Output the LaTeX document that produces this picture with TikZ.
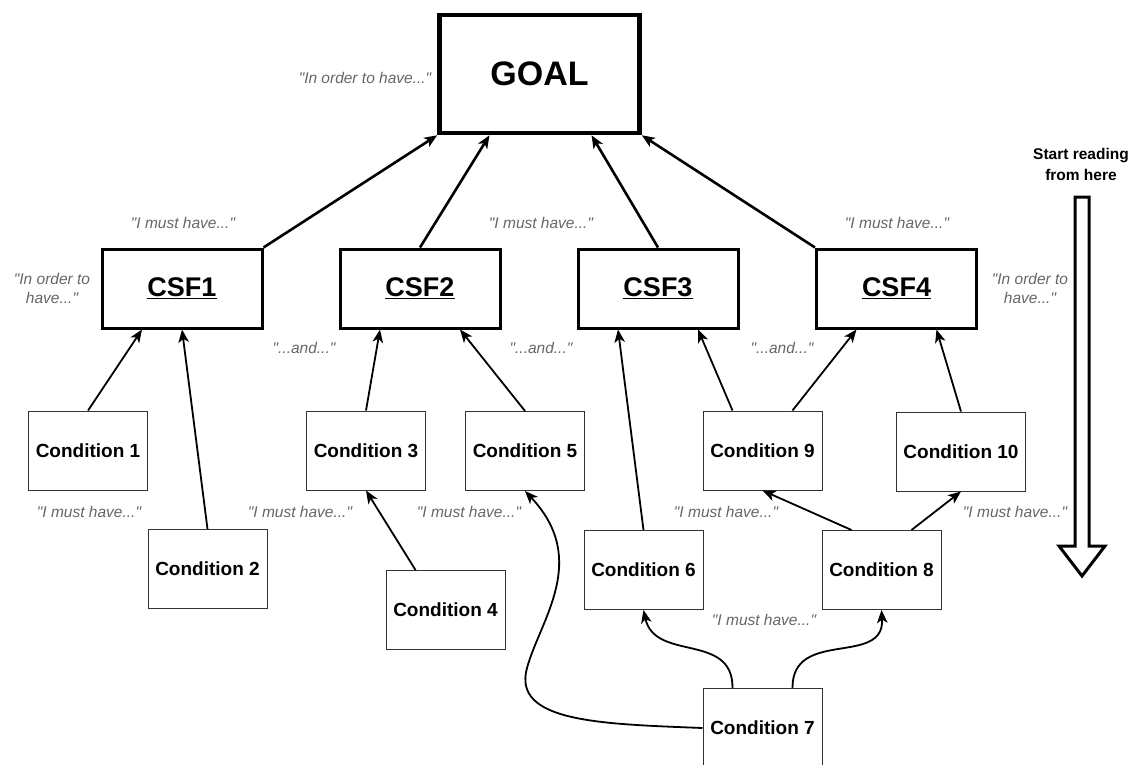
\documentclass[tikz,border=0pt]{standalone}
\usepackage{fontspec}
\setmainfont{Liberation Sans}
\usetikzlibrary{arrows.meta}
\definecolor{labelgray}{HTML}{666666}
\definecolor{condedge}{HTML}{333333}
% straight double quote
\newcommand{\dq}{\textquotedbl}
\begin{document}
\begin{tikzpicture}[x=1pt,y=-1pt,
  goalbox/.style={draw, line width=4.5pt, minimum width=200pt, minimum height=118pt, inner sep=0pt,
    font=\fontsize{34}{40}\selectfont\bfseries},
  csfbox/.style={draw, line width=3pt, minimum width=160pt, minimum height=79pt, inner sep=0pt,
    font=\fontsize{27}{32}\selectfont\bfseries},
  condbox/.style={draw=condedge, line width=1pt, minimum width=119pt, minimum height=79pt, inner sep=0pt,
    fill=white, font=\fontsize{19}{22}\selectfont\bfseries},
  note/.style={text=labelgray, font=\fontsize{15.5}{19}\selectfont\itshape, align=center, inner sep=0pt},
  headnote/.style={font=\fontsize{15.5}{21}\selectfont\bfseries, align=center, inner sep=0pt},
  tip/.style={-{Stealth[length=13pt,width=10.5pt,inset=3.5pt]}},
  majorlink/.style={tip, line width=2.6pt},
  minorlink/.style={tip, line width=1.8pt},
  ]
\useasboundingbox (0,0) rectangle (1133,765);

% goal and critical success factors
\node[goalbox] (goal) at (539.5,74) {GOAL};
\node[csfbox] (csf1) at (182,288.5) {\underline{CSF1}};
\node[csfbox] (csf2) at (420,288.5) {\underline{CSF2}};
\node[csfbox] (csf3) at (658,288.5) {\underline{CSF3}};
\node[csfbox] (csf4) at (896.5,288.5) {\underline{CSF4}};

% conditions
\node[condbox] (c1) at (88,450.5) {Condition 1};
\node[condbox] (c2) at (207.5,569) {Condition 2};
\node[condbox] (c3) at (366,450.5) {Condition 3};
\node[condbox] (c4) at (445.5,610) {Condition 4};
\node[condbox] (c5) at (525,451) {Condition 5};
\node[condbox] (c6) at (643.5,570) {Condition 6};
\node[condbox] (c7) at (762.5,728) {Condition 7};
\node[condbox] (c8) at (881.5,570) {Condition 8};
\node[condbox] (c9) at (762.5,450.5) {Condition 9};
\node[condbox, minimum width=129pt] (c10) at (961,451.5) {Condition 10};

% CSFs lead to the goal
\draw[majorlink] (csf1.north east) -- (goal.south west);
\draw[majorlink] (csf2.north) -- ([xshift=-50pt]goal.south);
\draw[majorlink] (csf3.north) -- ([xshift=52pt]goal.south);
\draw[majorlink] (csf4.north west) -- (goal.south east);

% conditions lead to CSFs
\draw[minorlink] (c1.north) -- ([xshift=-40pt]csf1.south);
\draw[minorlink] (c2.north) -- (csf1.south);
\draw[minorlink] (c3.north) -- ([xshift=-40pt]csf2.south);
\draw[minorlink] (c5.north) -- ([xshift=40pt]csf2.south);
\draw[minorlink] (c6.north) -- ([xshift=-40pt]csf3.south);
\draw[minorlink] ([xshift=-30pt]c9.north) -- ([xshift=40pt]csf3.south);
\draw[minorlink] ([xshift=30pt]c9.north) -- ([xshift=-40pt]csf4.south);
\draw[minorlink] (c10.north) -- ([xshift=40pt]csf4.south);

% conditions lead to conditions
\draw[minorlink] ([xshift=-30pt]c4.north) -- (c3.south);
\draw[minorlink] ([xshift=-30pt]c8.north) -- (c9.south);
\draw[minorlink] ([xshift=30pt]c8.north) -- (c10.south);
\draw[minorlink] ([xshift=-30pt]c7.north) .. controls (733,632) and (655,662) .. (c6.south);
\draw[minorlink] ([xshift=30pt]c7.north) .. controls (792,628) and (885,667) .. (c8.south);
\draw[minorlink] (c7.west) .. controls (600,724) and (512,722) .. (527,668)
  .. controls (540,620) and (590,560) .. (c5.south);

% reading hints
\node[note] (n0) at (365,78) {\dq In order to have...\dq};
\node[note] (n1) at (183,223) {\dq I must have...\dq};
\node[note] (n2) at (541,223) {\dq I must have...\dq};
\node[note] (n3) at (897,223) {\dq I must have...\dq};
\node[note] (n4) at (52,288) {\dq In order to\\have...\dq};
\node[note] (n5) at (1030,288) {\dq In order to\\have...\dq};
\node[note] (n6) at (304,348) {\dq...and...\dq};
\node[note] (n7) at (541,348) {\dq...and...\dq};
\node[note] (n8) at (782,348) {\dq...and...\dq};
\node[note] (n9) at (89,512) {\dq I must have...\dq};
\node[note] (n10) at (300,512) {\dq I must have...\dq};
\node[note] (n11) at (469,512) {\dq I must have...\dq};
\node[note] (n12) at (726,512) {\dq I must have...\dq};
\node[note] (n13) at (1015,512) {\dq I must have...\dq};
\node[note] (n14) at (764,620) {\dq I must have...\dq};

% reading direction
\node[headnote] (start) at (1081,164) {Start reading\\from here};
\draw[line width=3pt, line join=miter] (1075,197) -- (1089,197) -- (1089,546) -- (1105,546)
  -- (1082,576) -- (1059,546) -- (1075,546) -- cycle;
\end{tikzpicture}
\end{document}
